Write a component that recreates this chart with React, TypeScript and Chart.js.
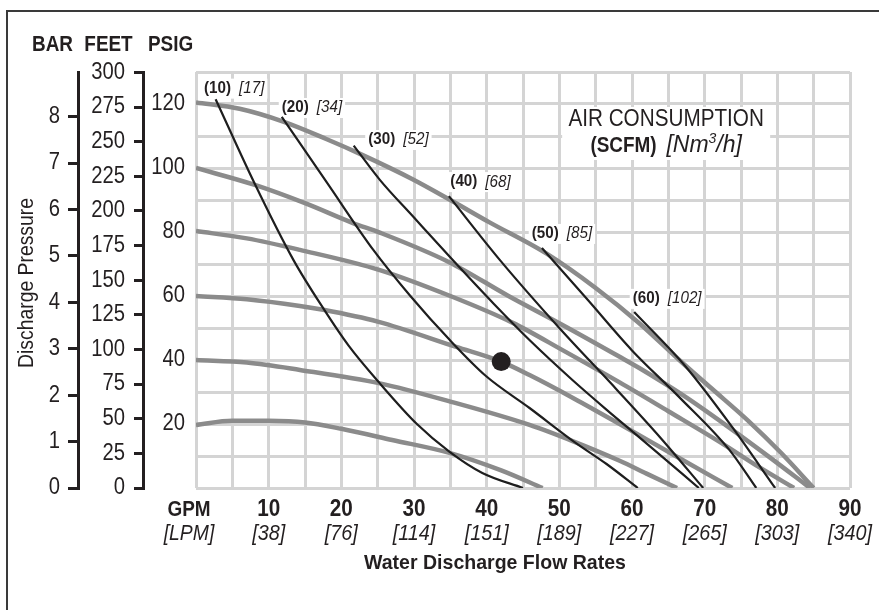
import React, { useEffect, useRef } from "react";
import { Chart, registerables } from "chart.js";

Chart.register(...registerables);

// ---------- data ----------
const gpmTickValues = [10, 20, 30, 40, 50, 60, 70, 80, 90];
const lpmTickLabels = ["[38]", "[76]", "[114]", "[151]", "[189]", "[227]", "[265]", "[303]", "[340]"];
const psigTickValues = [20, 40, 60, 80, 100, 120];
const feetTickValues = [0, 25, 50, 75, 100, 125, 150, 175, 200, 225, 250, 275, 300];
const barTickValues = [0, 1, 2, 3, 4, 5, 6, 7, 8];
const psigMax = 130;
const feetMax = 300.3; // 130 psig in feet of water
const barMax = 8.963; // 130 psig in bar

// performance curves (GPM, PSIG) for each air inlet pressure
const air120 = [[0, 120.5], [6, 118.5], [12, 114.5], [18, 109], [22.5, 104.5], [29.8, 96.5], [35, 90], [40.4, 83], [48.2, 73.3], [55, 62.5], [61, 51.5], [66.5, 40], [71, 31], [76, 21], [80.5, 11], [85, 0]];
const air100 = [[0, 100], [8.1, 94.7], [15, 89], [21.6, 82.8], [25.3, 79.8], [34.9, 70.5], [43, 60], [50, 51.5], [58.3, 41], [61, 37.5], [67, 29], [73, 19.5], [79, 9.5], [84.5, 0]];
const air80 = [[0, 80.3], [7, 78], [14.3, 74.4], [25.3, 68.1], [35, 60], [43.6, 51.6], [50.5, 43], [58.3, 33], [65, 24], [72, 14.5], [77.5, 6.5], [82.3, 0]];
const air60 = [[0, 60], [7, 59], [14.3, 56.9], [17.5, 55.7], [25, 52], [35.8, 44.1], [42, 39.5], [45.9, 35.3], [52, 28], [58.3, 20], [66, 10], [73.8, 0]];
const air40 = [[0, 40], [7, 39.2], [14.3, 36.9], [25.3, 32.7], [35, 27], [45.9, 19.7], [52, 14.5], [58.3, 8.5], [62, 4.5], [66.2, 0]];
const air20 = [[0, 19.7], [5, 21], [10, 21], [15, 20.5], [20, 18.5], [27, 15], [35, 10.9], [42, 5.5], [47.7, 0]];

// air consumption curves (GPM, PSIG)
const scfm10 = [[2.7, 121.5], [8.1, 95], [13.4, 71.3], [17.5, 56.2], [21, 44.5], [25.3, 32.7], [30.4, 20], [34.9, 11.3], [39.4, 4.7], [45, 0]];
const scfm20 = [[11.8, 116], [18, 95.5], [24.4, 74.4], [29.5, 60], [34.9, 46.3], [39.9, 35], [45.9, 25], [52, 14.5], [56.5, 7.5], [60.8, 0]];
const scfm30 = [[21.7, 107], [25.3, 96.3], [30, 84.5], [35.3, 71.3], [41, 57.5], [46, 46], [51.8, 33.75], [57, 23.5], [63, 12], [69.2, 0]];
const scfm40 = [[34.8, 91.2], [41.8, 71.3], [50, 50], [58, 30.5], [64, 15.5], [69.8, 0]];
const scfm50 = [[47.6, 75], [53.9, 58.8], [60, 43], [66.5, 28.4], [73.4, 11.9], [77.1, 0]];
const scfm60 = [[60.3, 55], [67.4, 37.9], [73.8, 19], [79.7, 0]];

const scfmLabels = ["(10)", "(20)", "(30)", "(40)", "(50)", "(60)"];
const nm3hLabels = ["[17]", "[34]", "[52]", "[68]", "[85]", "[102]"];

const operatingPoint = [[42, 39.5]];

// ---------- layout (label anchors, in data units) ----------
const labelAnchorGpm = [1.1, 11.8, 23.7, 35.0, 46.2, 60.1];
const labelAnchorPsi = [124.8, 118.75, 108.75, 95.6, 79.4, 59.1];
const titleAnchor = { gpm: 64.7, psi: 115.0 };

const FONT = '"Liberation Sans", Arial, Helvetica, sans-serif';
const INK = "#231f20";
const GRID = "#d4d4d4";
const GRAY = "#8b8b8b";

type TOpts = { size: number; weight?: string; style?: string; align?: CanvasTextAlign; sx?: number };
const fontOf = (o: TOpts) => `${o.style || "normal"} ${o.weight || "normal"} ${o.size}px ${FONT}`;
const pts = (a: number[][]) => a.map(([x, y]) => ({ x, y }));

function measure(ctx: CanvasRenderingContext2D, s: string, o: TOpts) {
  ctx.save();
  ctx.font = fontOf(o);
  const w = ctx.measureText(s).width * (o.sx ?? 0.88);
  ctx.restore();
  return w;
}

function text(ctx: CanvasRenderingContext2D, s: string, x: number, y: number, o: TOpts) {
  ctx.save();
  ctx.font = fontOf(o);
  ctx.fillStyle = INK;
  ctx.textAlign = o.align || "left";
  ctx.textBaseline = "middle";
  ctx.translate(x, y);
  ctx.scale(o.sx ?? 0.88, 1);
  ctx.fillText(s, 0, 0);
  ctx.restore();
}

const TICK: TOpts = { size: 23, sx: 0.88, align: "right" };
const LAB_B: TOpts = { size: 16, weight: "bold", sx: 0.95 };
const LAB_I: TOpts = { size: 16, style: "italic", sx: 0.95 };

const decorPlugin = {
  id: "decor",
  beforeDatasetsDraw(chart: any) {
    const ctx: CanvasRenderingContext2D = chart.ctx;
    const xs = chart.scales.x;
    const ys = chart.scales.y;
    ctx.save();
    ctx.fillStyle = "#ffffff";
    const cx = xs.getPixelForValue(titleAnchor.gpm);
    const cy = ys.getPixelForValue(titleAnchor.psi);
    ctx.fillRect(cx - 104, cy - 13, 208, 53);
    scfmLabels.forEach((lab, i) => {
      const x = xs.getPixelForValue(labelAnchorGpm[i]);
      const y = ys.getPixelForValue(labelAnchorPsi[i]);
      const w = measure(ctx, lab, LAB_B) + 8 + measure(ctx, nm3hLabels[i], LAB_I);
      ctx.fillRect(x - 3, y - 10, w + 6, 20);
    });
    ctx.restore();
  },
  afterDatasetsDraw(chart: any) {
    const ctx: CanvasRenderingContext2D = chart.ctx;
    const xs = chart.scales.x;
    const ys = chart.scales.y;
    scfmLabels.forEach((lab, i) => {
      const x = xs.getPixelForValue(labelAnchorGpm[i]);
      const y = ys.getPixelForValue(labelAnchorPsi[i]);
      text(ctx, lab, x, y, LAB_B);
      text(ctx, nm3hLabels[i], x + measure(ctx, lab, LAB_B) + 8, y, LAB_I);
    });
    const cx = xs.getPixelForValue(titleAnchor.gpm);
    const cy = ys.getPixelForValue(titleAnchor.psi);
    text(ctx, "AIR CONSUMPTION", cx, cy, { size: 23, sx: 0.9, align: "center" });
    const y2 = cy + 26;
    const parts: [string, TOpts, number][] = [
      ["(SCFM)", { size: 22, weight: "bold", sx: 0.86 }, 0],
      [" ", { size: 22, sx: 1.6 }, 0],
      ["[Nm", { size: 23, style: "italic", sx: 1.0 }, 0],
      ["3", { size: 14, style: "italic", sx: 1.0 }, -7],
      ["/h]", { size: 23, style: "italic", sx: 1.0 }, 0],
    ];
    const widths = parts.map(([s, o]) => measure(ctx, s, o));
    const total = widths.reduce((a, b) => a + b, 0);
    let px = cx - total / 2;
    parts.forEach(([s, o, dy], i) => {
      text(ctx, s, px, y2 + dy, o);
      px += widths[i];
    });
  },
  afterDraw(chart: any) {
    const ctx: CanvasRenderingContext2D = chart.ctx;
    const xs = chart.scales.x;
    const area = chart.chartArea;
    const bar = chart.scales.bar;
    const feet = chart.scales.feet;
    const psig = chart.scales.y;
    ctx.save();
    // frame
    ctx.strokeStyle = "#3a3a3a";
    ctx.lineWidth = 2;
    ctx.beginPath();
    ctx.moveTo(7, chart.height);
    ctx.lineTo(7, 11);
    ctx.lineTo(chart.width, 11);
    ctx.stroke();
    ctx.restore();
    // y tick labels
    barTickValues.forEach((v) => text(ctx, String(v), bar.right - 18, bar.getPixelForValue(v), TICK));
    feetTickValues.forEach((v) => text(ctx, String(v), feet.right - 18, feet.getPixelForValue(v), TICK));
    psigTickValues.forEach((v) => text(ctx, String(v), psig.right - 11, psig.getPixelForValue(v), TICK));
    // x tick labels
    const yb = area.bottom;
    gpmTickValues.forEach((v, i) => {
      const px = xs.getPixelForValue(v);
      text(ctx, String(v), px, yb + 22, { size: 23, weight: "bold", sx: 0.9, align: "center" });
      text(ctx, lpmTickLabels[i], px, yb + 46, { size: 22, style: "italic", sx: 0.9, align: "center" });
    });
    const gx = xs.getPixelForValue(0) - 7;
    text(ctx, "GPM", gx, yb + 22, { size: 22, weight: "bold", sx: 0.86, align: "center" });
    text(ctx, "[LPM]", gx, yb + 46, { size: 22, style: "italic", sx: 0.88, align: "center" });
    text(ctx, "Water Discharge Flow Rates", 495, yb + 75, { size: 21, weight: "bold", sx: 0.93, align: "center" });
    // y axis headers
    text(ctx, "BAR", bar.right - 25.5, 45, { size: 22, weight: "bold", sx: 0.86, align: "center" });
    text(ctx, "FEET", feet.right - 34.5, 45, { size: 22, weight: "bold", sx: 0.86, align: "center" });
    text(ctx, "PSIG", psig.right - 25.5, 45, { size: 22, weight: "bold", sx: 0.86, align: "center" });
    // vertical axis title
    ctx.save();
    ctx.translate(27, 283);
    ctx.rotate(-Math.PI / 2);
    text(ctx, "Discharge Pressure", 0, 0, { size: 21.5, sx: 0.9, align: "center" });
    ctx.restore();
  },
};

const blackCurves = [scfm10, scfm20, scfm30, scfm40, scfm50, scfm60];
const grayCurves = [air120, air100, air80, air60, air40, air20];

export default function App() {
  const ref = useRef<HTMLCanvasElement | null>(null);
  useEffect(() => {
    if (!ref.current) return;
    const chart = new Chart(ref.current, {
      type: "line",
      data: {
        datasets: [
          {
            label: "operating point",
            data: pts(operatingPoint),
            showLine: false,
            pointRadius: 9.5,
            pointBackgroundColor: INK,
            pointBorderWidth: 0,
            order: 0,
          } as any,
          ...blackCurves.map((d, i) => ({
            label: scfmLabels[i],
            data: pts(d),
            borderColor: "#1e1e1e",
            borderWidth: 2.2,
            pointRadius: 0,
            fill: false,
            cubicInterpolationMode: "monotone" as const,
            order: 1,
          })),
          ...grayCurves.map((d, i) => ({
            label: "air " + i,
            data: pts(d),
            borderColor: GRAY,
            borderWidth: 4.5,
            pointRadius: 0,
            fill: false,
            cubicInterpolationMode: "monotone" as const,
            order: 2,
          })),
        ],
      },
      options: {
        responsive: false,
        animation: false,
        devicePixelRatio: 1,
        layout: { padding: { left: 8, top: 72, right: 29, bottom: 122 } },
        plugins: { legend: { display: false }, tooltip: { enabled: false }, title: { display: false } },
        scales: {
          x: {
            type: "linear",
            min: 0,
            max: 90,
            ticks: { display: false, stepSize: 5 },
            grid: { color: GRID, lineWidth: 3, drawTicks: false },
            border: { display: false },
            afterFit: (s: any) => { s.height = 0; },
          },
          y: {
            type: "linear",
            position: "left",
            weight: 0,
            min: 0,
            max: psigMax,
            ticks: { display: false, stepSize: 10 },
            grid: { color: GRID, lineWidth: 3, drawTicks: false },
            border: { display: false },
            afterFit: (s: any) => { s.width = 53; },
          },
          feet: {
            type: "linear",
            position: "left",
            weight: 1,
            min: 0,
            max: feetMax,
            ticks: { display: false },
            afterBuildTicks: (s: any) => { s.ticks = feetTickValues.map((value) => ({ value })); },
            grid: { drawOnChartArea: false, drawTicks: true, tickLength: 9, color: INK, lineWidth: 3 },
            border: { display: true, color: INK, width: 3 },
            afterFit: (s: any) => { s.width = 65; },
          },
          bar: {
            type: "linear",
            position: "left",
            weight: 2,
            min: 0,
            max: barMax,
            ticks: { display: false },
            afterBuildTicks: (s: any) => { s.ticks = barTickValues.map((value) => ({ value })); },
            grid: { drawOnChartArea: false, drawTicks: true, tickLength: 10, color: INK, lineWidth: 3 },
            border: { display: true, color: INK, width: 3 },
            afterFit: (s: any) => { s.width = 70; },
          },
        },
      } as any,
      plugins: [decorPlugin],
    });
    return () => chart.destroy();
  }, []);
  return (
    <div style={{ position: "fixed", left: 0, top: 0, width: 879, height: 610, background: "#fff" }}>
      <canvas ref={ref} width={879} height={610} />
    </div>
  );
}
